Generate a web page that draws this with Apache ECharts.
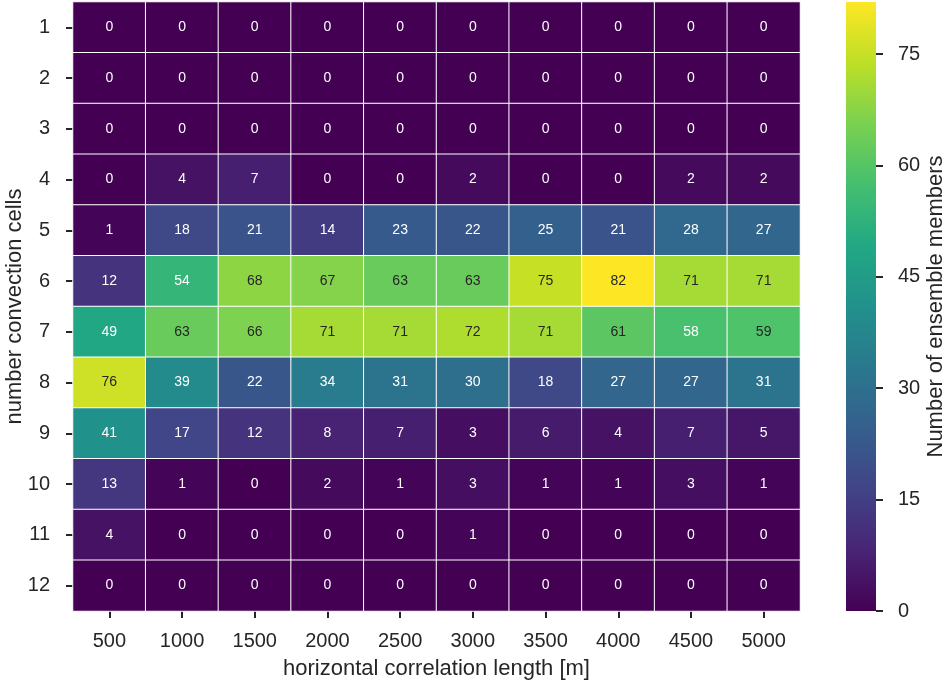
<!DOCTYPE html>
<html><head><meta charset="utf-8">
<script src="https://cdn.jsdelivr.net/npm/echarts@6/dist/echarts.min.js"></script>
<style>html,body{margin:0;padding:0;background:#fff}#c{width:945px;height:680px}</style>
</head><body><div id="c"></div>
<script>
const xCategories = ['500','1000','1500','2000','2500','3000','3500','4000','4500','5000'];
const yCategories = ['1','2','3','4','5','6','7','8','9','10','11','12'];
// rows: number of convection cells 1..12, columns: correlation length 500..5000
const row1  = [0,0,0,0,0,0,0,0,0,0];
const row2  = [0,0,0,0,0,0,0,0,0,0];
const row3  = [0,0,0,0,0,0,0,0,0,0];
const row4  = [0,4,7,0,0,2,0,0,2,2];
const row5  = [1,18,21,14,23,22,25,21,28,27];
const row6  = [12,54,68,67,63,63,75,82,71,71];
const row7  = [49,63,66,71,71,72,71,61,58,59];
const row8  = [76,39,22,34,31,30,18,27,27,31];
const row9  = [41,17,12,8,7,3,6,4,7,5];
const row10 = [13,1,0,2,1,3,1,1,3,1];
const row11 = [4,0,0,0,0,1,0,0,0,0];
const row12 = [0,0,0,0,0,0,0,0,0,0];
const colorbarTicks = [0,15,30,45,60,75];
const rows = [row1,row2,row3,row4,row5,row6,row7,row8,row9,row10,row11,row12];

const viridis = ['#440154','#482475','#414487','#355f8d','#2a788e','#21918c','#22a884','#44bf70','#7ad151','#bddf26','#fde725'];
const font = 'Liberation Sans, Arial, sans-serif';
const dark = '#262626';

const vmax = Math.max(...rows.flat());
const data = [];
rows.forEach((r, yi) => r.forEach((v, xi) => {
  data.push({value: [xi, yi, v], label: {color: v >= 59 ? dark : '#ffffff'}});
}));

const gradient = new echarts.graphic.LinearGradient(0, 1, 0, 0,
  viridis.map((c, i) => ({offset: i / (viridis.length - 1), color: c})));

const chart = echarts.init(document.getElementById('c'), null, {renderer: 'canvas'});
chart.setOption({
  backgroundColor: '#fff',
  animation: false,
  grid: [
    {left: 73, right: 145, top: 2, bottom: 69, containLabel: false, outerBoundsMode: 'none'},
    {left: 846, width: 30, top: 2, bottom: 69, containLabel: false, outerBoundsMode: 'none'}
  ],
  xAxis: [
    {type: 'category', data: xCategories, gridIndex: 0,
     axisLine: {show: false}, splitLine: {show: false},
     axisTick: {show: true, alignWithLabel: true, length: 7, lineStyle: {color: dark, width: 2}},
     axisLabel: {fontSize: 20, color: dark, fontFamily: font, margin: 20},
     name: 'horizontal correlation length [m]', nameLocation: 'middle', nameGap: 47, nameMoveOverlap: false,
     nameTextStyle: {fontSize: 22, color: dark, fontFamily: font}},
    {type: 'category', gridIndex: 1, show: false, data: ['cb']}
  ],
  yAxis: [
    {type: 'category', data: yCategories, gridIndex: 0, inverse: true,
     axisLine: {show: false}, splitLine: {show: false},
     axisTick: {show: true, alignWithLabel: true, length: 7, lineStyle: {color: dark, width: 2}},
     axisLabel: {fontSize: 20, color: dark, fontFamily: font, margin: 23},
     name: 'number convection cells', nameLocation: 'middle', nameGap: 47, nameMoveOverlap: false,
     nameTextStyle: {fontSize: 22, color: dark, fontFamily: font}},
    {type: 'value', gridIndex: 1, position: 'right', min: 0, max: vmax, interval: 15,
     axisLine: {show: false}, splitLine: {show: false},
     axisTick: {show: true, length: 7, lineStyle: {color: dark, width: 2}},
     axisLabel: {fontSize: 20, color: dark, fontFamily: font, margin: 22, showMaxLabel: false,
       formatter: v => colorbarTicks.includes(v) ? String(v) : ''},
     name: 'Number of ensemble members', nameLocation: 'middle', nameGap: 49, nameRotate: 90, nameMoveOverlap: false,
     nameTextStyle: {fontSize: 22, color: dark, fontFamily: font}}
  ],
  visualMap: {
    type: 'continuous', min: 0, max: vmax, seriesIndex: 0, show: false,
    inRange: {color: viridis}
  },
  series: [{
    type: 'heatmap', xAxisIndex: 0, yAxisIndex: 0, data: data,
    itemStyle: {borderColor: '#ffffff', borderWidth: 1},
    label: {show: true, fontSize: 14, fontFamily: font},
    emphasis: {disabled: true}
  }, {
    type: 'bar', xAxisIndex: 1, yAxisIndex: 1, data: [vmax], barWidth: '100%',
    itemStyle: {color: gradient}, silent: true
  }]
});
</script></body></html>
